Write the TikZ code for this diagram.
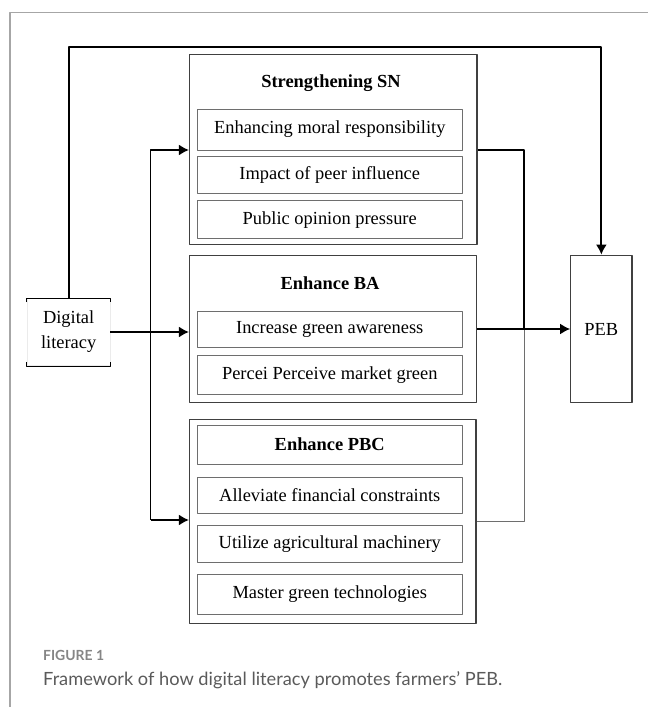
\documentclass[tikz,border=0pt]{standalone}
\usepackage{fontspec}
\setmainfont{Liberation Serif}
\newfontfamily\capfont{Lato}
\usetikzlibrary{arrows.meta}
\definecolor{framecol}{HTML}{A6A6A6}
\definecolor{outercol}{HTML}{404040}
\definecolor{innercol}{HTML}{6E6E6E}
\definecolor{captioncol}{HTML}{5A5A5A}
\definecolor{figcol}{HTML}{858585}
\tikzset{
  group/.style={draw=outercol,line width=1.1bp,rectangle,inner sep=0pt},
  item/.style={draw=innercol,line width=0.9bp,rectangle,inner sep=0pt,minimum width=264.5bp,font=\fontsize{18.5}{22}\selectfont},
  head/.style={inner sep=0pt,font=\bfseries\fontsize{18.5}{22}\selectfont},
  flow/.style={line width=1.8bp},
}
\begin{document}
\begin{tikzpicture}[x=1bp,y=-1bp,>={Latex[length=10bp,width=11bp]},line join=bevel]
  \useasboundingbox (0,0) rectangle (648,707);
%%
  % Frame
  \draw[framecol,line width=1.4bp] (648,12.7) -- (10,12.7) -- (10,707);
  % Node: sn
  \node[group,minimum width=287.5bp,minimum height=190bp] (sn) at (333.25,149.5) {};
  \node[head] (snhead) at (331,83) {Strengthening SN};
  \node[item,minimum height=41bp] (sn1) at (329.75,129.5) {Enhancing moral responsibility};
  \node[item,minimum height=36.6bp] (sn2) at (329.75,175) {Impact of peer influence};
  \node[item,minimum height=38bp] (sn3) at (329.75,219.7) {Public opinion pressure};
  % Node: ba
  \node[group,minimum width=287bp,minimum height=147.2bp] (ba) at (333,329.1) {};
  \node[head] (bahead) at (330,283) {Enhance BA};
  \node[item,minimum height=36.4bp] (ba1) at (329.75,329.5) {Increase green awareness};
  \node[item,minimum height=38.7bp] (ba2) at (329.75,374.7) {Percei Perceive market green};
  % Node: pbc
  \node[group,minimum width=286.5bp,minimum height=203.8bp] (pbc) at (332.75,521.4) {};
  \node[item,minimum height=39bp,font=\bfseries\fontsize{18.5}{22}\selectfont] (pbc0) at (329.75,444.5) {Enhance PBC};
  \node[item,minimum height=35.6bp] (pbc1) at (329.75,495.5) {Alleviate financial constraints};
  \node[item,minimum height=36.6bp] (pbc2) at (329.75,544) {Utilize agricultural machinery};
  \node[item,minimum height=40bp] (pbc3) at (329.75,594) {Master green technologies};
  % Node: digital
  \node[draw=black!8,line width=0.9bp,minimum width=82.7bp,minimum height=67bp,inner sep=0pt,
        align=center,font=\fontsize{18.5}{25}\selectfont] (digital) at (68.65,332) {Digital\\literacy};
  \draw[line width=0.9bp] ([yshift=-4bp]digital.north west) -- (digital.north west) -- (digital.north east) -- ([yshift=-4bp]digital.north east);
  \draw[line width=0.9bp] ([yshift=4bp]digital.south west) -- (digital.south west) -- (digital.south east) -- ([yshift=4bp]digital.south east);
  % Node: peb
  \node[group,minimum width=61.3bp,minimum height=147.7bp,font=\fontsize{18.5}{22}\selectfont] (peb) at (601.35,329) {PEB};
  % Edge: digital -> peb
  \coordinate (topr) at (601.35,47);
  \draw[flow,->] (digital.north) |- (topr) -- (peb.north);
  % Edge: digital -> sn, ba, pbc
  \coordinate (jt) at (150.5,150);
  \coordinate (jb) at (150.5,520);
  \draw[flow,->] (digital.east) -- (digital.east -| ba.west);
  \draw[flow,->] (jb) |- (sn.west |- jt);
  \draw[flow,->] (jb) -- (pbc.west |- jb);
  % Edge: sn, ba, pbc -> peb
  \coordinate (rt) at (524,150);
  \coordinate (rb) at (524,521);
  \draw[flow] (sn.east |- rt) -- (rt) -- (rt |- peb.west);
  \draw[innercol,line width=1bp] (rt |- peb.west) -- (rb) -- (pbc.east |- rb);
  \draw[flow,->] (ba.east |- peb.west) -- (peb.west);
  % Caption
  \node[anchor=base west,inner sep=0pt,text=figcol,font=\capfont\bfseries\fontsize{14}{16}\selectfont] (fig) at (43,660) {FIGURE 1};
  \node[anchor=base west,inner sep=0pt,text=captioncol,font=\capfont\fontsize{18.3}{22}\selectfont] (caption) at (43,685) {Framework of how digital literacy promotes farmers’ PEB.};
%
\end{tikzpicture}
\end{document}
